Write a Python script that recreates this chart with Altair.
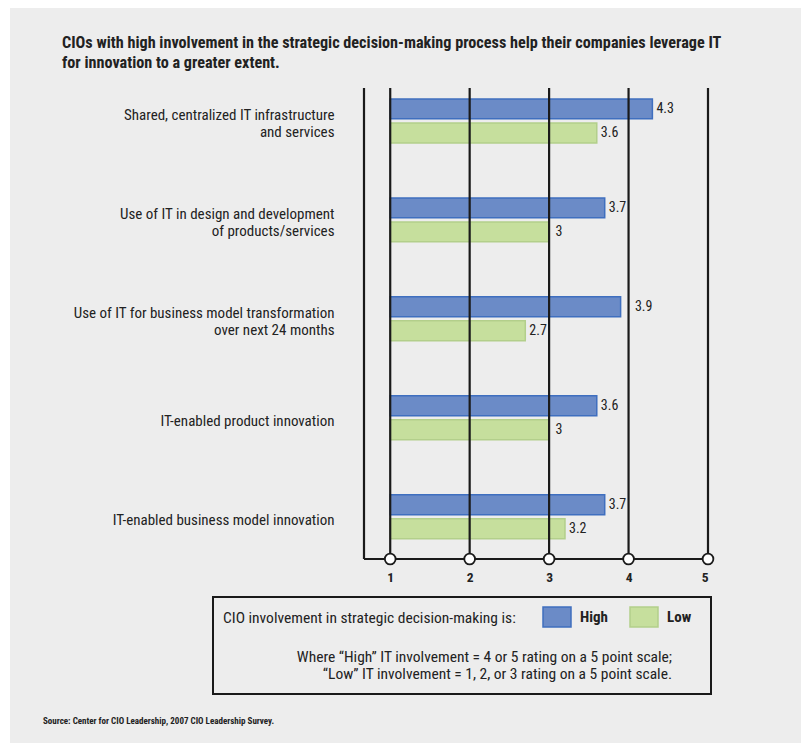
import altair as alt
import pandas as pd

# ---- data ----
categories = [
    "Shared, centralized IT infrastructure\nand services",
    "Use of IT in design and development\nof products/services",
    "Use of IT for business model transformation\nover next 24 months",
    "IT-enabled product innovation",
    "IT-enabled business model innovation",
]
series = ["High", "Low"]
high = [4.3, 3.7, 3.9, 3.6, 3.7]
low = [3.6, 3.0, 2.7, 3.0, 3.2]
ticks = [1, 2, 3, 4, 5]

title_text = ("CIOs with high involvement in the strategic decision-making process help their companies leverage IT\n"
              "for innovation to a greater extent.")
legend_title = "CIO involvement in strategic decision-making is:"
notes = ("Where \u201cHigh\u201d IT involvement = 4 or 5 rating on a 5 point scale;\n"
         "\u201cLow\u201d IT involvement = 1, 2, or 3 rating on a 5 point scale.")
source = "Source: Center for CIO Leadership, 2007 CIO Leadership Survey."

FONT = "Liberation Sans Narrow, Roboto Condensed, DejaVu Sans Condensed, Arial Narrow, sans-serif"
INK = "#222222"
LINE = "#1a1a1a"
fills = ["#6b8bc7", "#c6df9d"]
strokes = ["#3f6fbf", "#b3cf8b"]

df = pd.DataFrame({
    "category": [c for c in categories for _ in series],
    "series": series * len(categories),
    "value": [v for pair in zip(high, low) for v in pair],
})
tick_df = pd.DataFrame({"tick": ticks})
one = pd.DataFrame({"a": [0]})

W, H = 344, 471
PL, PT = 364, 88

x_scale = alt.Scale(domain=[0.67, 5], nice=False, zero=False)
y_scale = alt.Scale(domain=categories, paddingInner=0.556, paddingOuter=0.158, align=0.35)
yoff_scale = alt.Scale(domain=series, paddingInner=0.17, paddingOuter=0)

xaxis = alt.Axis(values=ticks, title=None, domain=False, ticks=False, grid=False,
                 labelFont=FONT, labelFontSize=13.5, labelFontWeight="bold",
                 labelColor=INK, labelPadding=11, format="d", zindex=1)
yaxis = alt.Axis(title=None, domain=False, ticks=False, grid=False,
                 labelExpr="split(datum.label, '\\n')", labelFont=FONT,
                 labelFontSize=15, labelColor=INK, labelPadding=30,
                 labelLineHeight=17.5, labelLimit=400, zindex=1,
                 labelOffset={"condition": {"test": "indexof(datum.value, '\\n') >= 0",
                                            "value": -6}, "value": 3})

legend = alt.Legend(
    orient="none", legendX=-141, legendY=518, direction="horizontal",
    title=legend_title, titleOrient="left", titleFont=FONT, titleFontSize=15.5,
    titleFontWeight="normal", titleColor=INK, titlePadding=30, titleLimit=500,
    labelFont=FONT, labelFontSize=15, labelFontWeight="bold", labelColor=INK,
    labelOffset=12, columnPadding=19,
    symbolType="M-1.4,-1H1.4V1H-1.4Z", symbolSize=400, symbolStrokeWidth=1.5,
    symbolOpacity=1,
)

bg = alt.Chart(one).mark_rect(color="#ededed").encode(
    x=alt.value(10 - PL), x2=alt.value(801 - PL),
    y=alt.value(8 - PT), y2=alt.value(743 - PT),
)

bars = alt.Chart(df).mark_bar(strokeWidth=1.5, opacity=1).encode(
    y=alt.Y("category:N", scale=y_scale, sort=categories, axis=yaxis),
    yOffset=alt.YOffset("series:N", scale=yoff_scale, sort=series),
    x=alt.X("value:Q", scale=x_scale, axis=xaxis),
    x2=alt.datum(1),
    fill=alt.Fill("series:N", scale=alt.Scale(domain=series, range=fills), legend=legend),
    stroke=alt.Stroke("series:N", scale=alt.Scale(domain=series, range=strokes), legend=legend),
)

grid = alt.Chart(tick_df).mark_rule(color=LINE, strokeWidth=2.2).encode(
    x=alt.X("tick:Q", scale=x_scale, axis=xaxis)
)
left_line = alt.Chart(one).mark_rule(color=LINE, strokeWidth=2.2).encode(x=alt.value(0))
bottom_line = alt.Chart(one).mark_rule(color=LINE, strokeWidth=2.2).encode(y=alt.value(H))

circles = alt.Chart(tick_df).mark_point(
    shape="circle", filled=True, fill="white", stroke=LINE, strokeWidth=1.8,
    size=115, opacity=1,
).encode(x=alt.X("tick:Q", scale=x_scale, axis=xaxis), y=alt.value(H))

# value labels: sit just past the bar end, or hop past a gridline they would cross
values = alt.Chart(df).transform_calculate(
    lx="datum.value == ceil(datum.value) ? datum.value + 0.03 : "
       "(datum.value + 0.27 > ceil(datum.value) - 0.02 ? ceil(datum.value) + 0.03 : datum.value)"
).mark_text(
    align="left", baseline="middle", dx=4, font=FONT, fontSize=14, color=INK
).encode(
    y=alt.Y("category:N", scale=y_scale, sort=categories, axis=yaxis),
    yOffset=alt.YOffset("series:N", scale=yoff_scale, sort=series),
    x=alt.X("lx:Q", scale=x_scale, axis=xaxis),
    text=alt.Text("value:Q", format="~g"),
)

legend_box = alt.Chart(one).mark_rect(
    fill="transparent", stroke=LINE, strokeWidth=2
).encode(
    x=alt.value(213 - PL), x2=alt.value(711 - PL),
    y=alt.value(597 - PT), y2=alt.value(694 - PT),
)

notes_text = alt.Chart(one).mark_text(
    align="right", baseline="middle", lineBreak="\n", lineHeight=17,
    font=FONT, fontSize=15.5, color=INK,
).encode(x=alt.value(672 - PL), y=alt.value(657 - PT), text=alt.value(notes))

title_mark = alt.Chart(one).mark_text(
    align="left", baseline="alphabetic", lineBreak="\n", lineHeight=19.5,
    font=FONT, fontSize=16.2, fontWeight="bold", color=INK,
).encode(x=alt.value(62 - PL), y=alt.value(48 - PT), text=alt.value(title_text))

source_text = alt.Chart(one).mark_text(
    align="left", baseline="middle", font=FONT, fontSize=9,
    fontWeight="bold", color=INK,
).encode(x=alt.value(43 - PL), y=alt.value(721 - PT), text=alt.value(source))

chart = alt.layer(
    bg, bars, grid, left_line, bottom_line, circles, values,
    legend_box, notes_text, title_mark, source_text,
).properties(
    width=W, height=H,
    padding={"left": PL, "top": PT, "right": 801 - PL - W, "bottom": 743 - PT - H},
    autosize=alt.AutoSizeParams(type="none"),
).configure(background="#ffffff").configure_view(stroke=None)

chart.save("out.html", embed_options={"renderer": "svg", "actions": False})
